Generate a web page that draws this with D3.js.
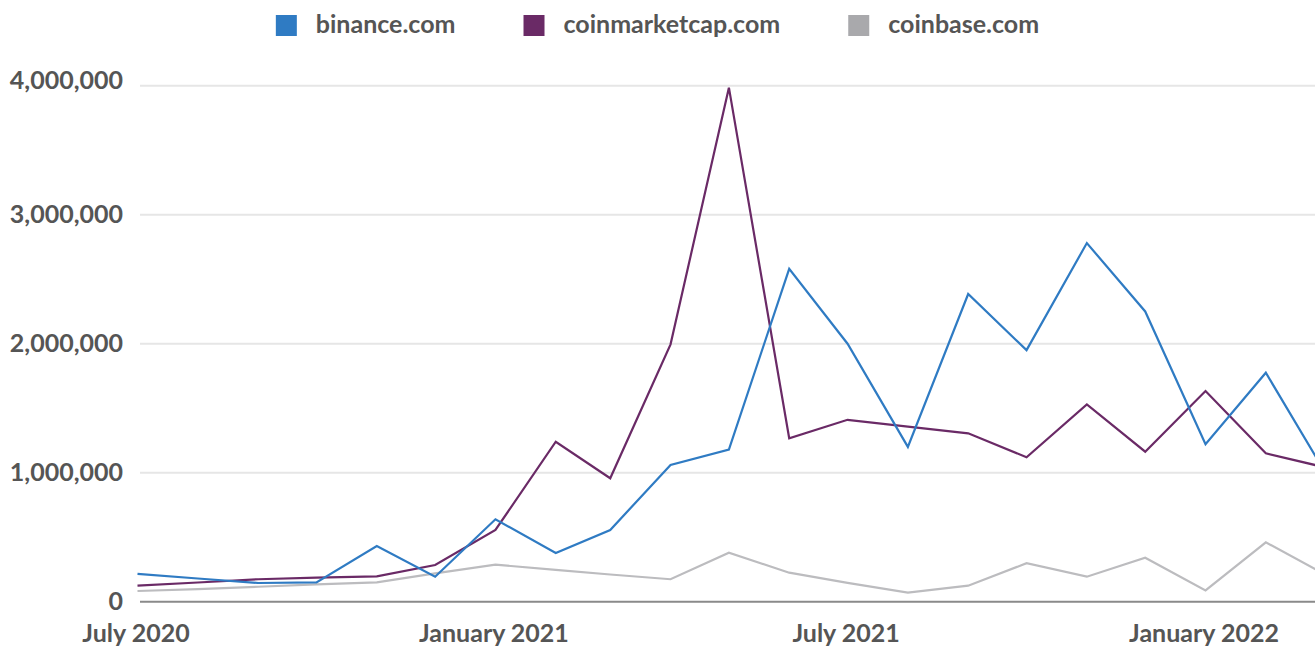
<!DOCTYPE html>
<html>
<head>
<meta charset="utf-8">
<script src="https://cdn.jsdelivr.net/npm/d3@7"></script>
<style>
  body { margin: 0; background: #fff; }
  svg { display: block; font-family: Lato, "Open Sans", sans-serif; }
  .axis text { fill: #555; font-size: 25px; font-weight: 700; font-family: Lato, "Open Sans", sans-serif; }
</style>
</head>
<body>
<div id="chart"></div>
<script>
// monthly visits, Jul 2020 .. Mar 2022
var months = ["2020-07", "2020-08", "2020-09", "2020-10", "2020-11", "2020-12",
              "2021-01", "2021-02", "2021-03", "2021-04", "2021-05", "2021-06",
              "2021-07", "2021-08", "2021-09", "2021-10", "2021-11", "2021-12",
              "2022-01", "2022-02", "2022-03"];

var binance = [215000, 180000, 145000, 150000, 432000, 194000,
               639000, 378000, 556000, 1060000, 1180000, 2580000,
               2000000, 1200000, 2385000, 1950000, 2780000, 2250000,
               1220000, 1775000, 1066000];

var coinmarketcap = [124000, 149000, 174000, 186000, 197000, 284000,
                     556000, 1240000, 957000, 1995000, 3985000, 1267000,
                     1410000, 1357000, 1305000, 1120000, 1530000, 1163000,
                     1633000, 1150000, 1050000];

var coinbase = [83000, 98000, 116000, 135000, 150000, 220000,
                287000, 247000, 211000, 174000, 380000, 225000,
                146000, 70000, 124000, 298000, 194000, 341000,
                88000, 460000, 231000];

var seriesNames = ["binance.com", "coinmarketcap.com", "coinbase.com"];
var lineColors = ["#2f7bc3", "#6a2a66", "#bcbcbf"];
var legendColors = ["#2f7bc3", "#6a2a66", "#a9a9ac"];

var yTicks = [0, 1000000, 2000000, 3000000, 4000000];
var xTicks = ["2020-07", "2021-01", "2021-07", "2022-01"];

var W = 1315, H = 646;
var parse = d3.timeParse("%Y-%m");

var svg = d3.select("#chart").append("svg")
    .attr("width", W)
    .attr("height", H);

var x = d3.scaleTime()
    .domain([parse(months[0]), parse(months[months.length - 1])])
    .range([137.5, 1320.3]);

var y = d3.scaleLinear()
    .domain([0, 4000000])
    .range([601.7, 85.7]);

// grid lines
svg.append("g")
    .selectAll("line")
    .data(yTicks.slice(1))
  .enter().append("line")
    .attr("x1", 140)
    .attr("x2", W)
    .attr("y1", function(d) { return y(d); })
    .attr("y2", function(d) { return y(d); })
    .style("stroke", "#e6e6e6")
    .style("stroke-width", 2);

// y axis labels
var yAxis = d3.axisLeft(y)
    .tickValues(yTicks)
    .tickSize(0)
    .tickPadding(0)
    .tickFormat(d3.format(","));

svg.append("g")
    .attr("class", "y axis")
    .attr("transform", "translate(123,0)")
    .call(yAxis)
    .call(function(g) { g.select(".domain").remove(); })
  .selectAll("text")
    .attr("dy", function(d) { return d === 4000000 ? "0.1em" : "0.33em"; });

// x axis labels
var xFmt = d3.timeFormat("%B %Y");
var xAxis = d3.axisBottom(x)
    .tickValues(xTicks.map(parse))
    .tickSize(0)
    .tickPadding(0)
    .tickFormat(xFmt);

svg.append("g")
    .attr("class", "x axis")
    .attr("transform", "translate(-2,623)")
    .call(xAxis)
    .call(function(g) { g.select(".domain").remove(); })
  .selectAll("text")
    .attr("dy", "0.75em");

// lines
var allSeries = [binance, coinmarketcap, coinbase];
var line = d3.line()
    .x(function(d, i) { return x(parse(months[i])); })
    .y(function(d) { return y(d); });

// draw grey first so it sits under the others
[2, 1, 0].forEach(function(k) {
  svg.append("path")
      .datum(allSeries[k])
      .attr("d", line)
      .style("fill", "none")
      .style("stroke", lineColors[k])
      .style("stroke-width", 2.2)
      .style("stroke-linejoin", "miter");
});

// baseline
svg.append("line")
    .attr("x1", 140)
    .attr("x2", W)
    .attr("y1", y(0))
    .attr("y2", y(0))
    .style("stroke", "#8a8a8a")
    .style("stroke-width", 2);

// legend
var legend = svg.append("g");
var items = legend.selectAll("g")
    .data(seriesNames)
  .enter().append("g");

items.append("rect")
    .attr("width", 21)
    .attr("height", 21)
    .attr("y", 15)
    .style("fill", function(d, i) { return legendColors[i]; });

items.append("text")
    .attr("x", 40)
    .attr("y", 33)
    .style("font-size", "25px")
    .style("font-weight", 700)
    .style("fill", "#555")
    .text(function(d) { return d; });

var gap = 68, pos = 0, offsets = [];
items.each(function() {
  offsets.push(pos);
  pos += 40 + d3.select(this).select("text").node().getComputedTextLength() + gap;
});
var total = pos - gap;
var start = (W - total) / 2;
items.attr("transform", function(d, i) { return "translate(" + (start + offsets[i]) + ",0)"; });
</script>
</body>
</html>
